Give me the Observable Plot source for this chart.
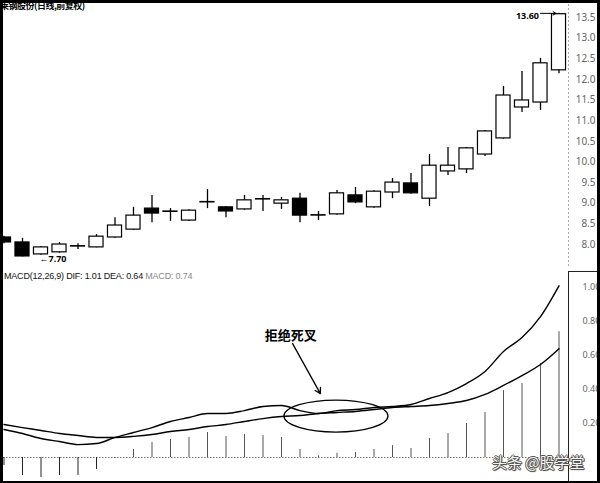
<!DOCTYPE html>
<html><head><meta charset="utf-8">
<script src="https://cdn.jsdelivr.net/npm/d3@7"></script>
<script src="https://cdn.jsdelivr.net/npm/@observablehq/plot@0.6"></script>
<style>
html,body{margin:0;padding:0;background:#fff;}
#wrap{position:relative;width:600px;height:483px;overflow:hidden;background:#fff;font-family:Arial,"Liberation Sans",sans-serif;}
#topc{position:absolute;left:0;top:0;}
#botc{position:absolute;left:0;top:268px;}
#border{position:absolute;left:0;top:0;width:600px;height:483px;box-sizing:border-box;border-top:3px solid #000;border-left:3px solid #000;border-right:3px solid #000;border-bottom:2px solid #000;pointer-events:none;}
#axbox{position:absolute;left:568px;top:271px;width:40px;height:220px;border-left:1px solid #222;border-top:1px solid #222;pointer-events:none;}
#title{position:absolute;left:0;top:-1px;font:bold 9px "Noto Sans CJK SC",sans-serif;color:#000;letter-spacing:-0.5px;}
#mhead{position:absolute;left:4px;top:271px;font:9px Arial,"Liberation Sans",sans-serif;color:#111;white-space:nowrap;letter-spacing:-0.2px;}
#mhead .g{color:#888;}
#wm{position:absolute;left:492px;top:451px;font:15px "Noto Sans CJK SC",sans-serif;color:#f6f6f6;text-shadow:-1px 0 #555,1px 0 #555,0 1px #555,0 -1px #555,1px 1px 1px #333;white-space:nowrap;}
</style>
</head><body>
<div id="wrap">
  <div id="topc"></div>
  <div id="botc"></div>
  <div id="axbox"></div>
  <div id="mhead">MACD(12,26,9) DIF: 1.01 DEA: 0.64 <span class="g">MACD: 0.74</span></div>
  <div id="wm">头条 @股学堂</div>
  <div id="border"></div>
  <div id="title">莱钢股份(日线,前复权)</div>
</div>
<script>
// ---- data ----
const dayIndex = d3.range(31);
const open  = [8.17,8.05,7.76,7.81,7.95,7.93,8.17,8.36,8.87,8.80,8.58,9.02,8.90,8.85,9.09,8.99,9.11,8.70,8.73,9.19,8.90,9.26,9.48,9.11,9.77,9.82,10.18,10.57,11.32,11.44,12.22];
const high  = [8.20,8.15,7.95,8.05,8.02,8.24,8.65,8.90,9.19,8.87,8.84,9.33,8.92,9.19,9.19,9.14,9.24,8.80,9.31,9.38,9.30,9.60,9.72,10.18,10.35,10.35,10.76,11.83,12.19,12.51,13.60];
const low   = [8.02,7.70,7.74,7.79,7.88,7.92,8.15,8.34,8.53,8.56,8.56,8.87,8.65,8.83,8.80,8.85,8.53,8.58,8.71,8.99,8.88,9.11,9.22,8.92,9.67,9.72,10.13,10.55,11.20,11.25,12.14];
const close = [8.05,7.71,7.93,8.00,7.96,8.19,8.46,8.70,8.75,8.79,8.82,9.03,8.80,9.07,9.10,9.07,8.70,8.71,9.24,9.02,9.28,9.50,9.24,9.91,9.91,10.33,10.74,11.61,11.49,12.39,13.58];
const dif   = [0.165,0.141,0.112,0.094,0.076,0.082,0.118,0.147,0.176,0.212,0.235,0.259,0.259,0.276,0.300,0.306,0.276,0.259,0.276,0.282,0.294,0.300,0.312,0.347,0.382,0.435,0.506,0.624,0.706,0.829,1.01];
const dea   = [0.194,0.176,0.159,0.141,0.129,0.118,0.118,0.124,0.135,0.153,0.165,0.182,0.194,0.212,0.229,0.241,0.247,0.259,0.265,0.271,0.282,0.294,0.300,0.306,0.318,0.335,0.371,0.424,0.482,0.547,0.64];
const macd  = [-0.047,-0.106,-0.118,-0.106,-0.106,-0.070,-0.005,0.047,0.088,0.106,0.118,0.147,0.124,0.135,0.129,0.118,0.047,0.010,0.024,0.030,0.047,0.070,0.053,0.112,0.141,0.200,0.265,0.394,0.435,0.553,0.74];
const priceTicks = [8.0,8.5,9.0,9.5,10.0,10.5,11.0,11.5,12.0,12.5,13.0,13.5];
const macdTicks = [0.2,0.4,0.6,0.8,1.0];
// annotations
const highLabel = [{i:30, v:13.60, text:"13.60"}];
const lowLabel  = [{i:1, v:7.70, text:"←7.70"}];
const noteText  = [{i:15.5, v:0.718, text:"拒绝死叉"}];
const noteArrow = [{i1:15.6, v1:0.67, i2:17.1, v2:0.376}];
const noteEllipse = {i:17.97, v:0.241, rx:52, ry:16};

const candles = dayIndex.map(i => ({i, o:open[i], h:high[i], l:low[i], c:close[i], up: close[i] >= open[i]}));
const HW = 0.38;
const xOpt = {domain:[0,30], range:[3.5,558.5], axis:null};

const topChart = Plot.plot({
  width:600, height:268, marginLeft:0, marginRight:32, marginTop:0, marginBottom:0,
  x:xOpt,
  y:{domain:[8,13.5], range:[244,17]},
  style:{background:"transparent", overflow:"visible"},
  marks:[
    Plot.frame({anchor:"right", stroke:"#aaa", strokeDasharray:"1,3"}),
    Plot.axisY(priceTicks, {anchor:"right", tickSize:0, tickPadding:0, dx:27, textAnchor:"end",
      tickFormat:d=>d.toFixed(1), fontSize:10, color:"#666"}),
    Plot.ruleX(candles, {x:"i", y1:"l", y2:"h", stroke:"#000", strokeWidth:1.3}),
    Plot.rect(candles, {x1:d=>d.i-HW, x2:d=>d.i+HW, y1:"o", y2:"c",
      fill:d=>d.up?"#fff":"#000", stroke:"#000", strokeWidth:1.2}),
    Plot.arrow(highLabel, {x1:d=>d.i-1, x2:"i", y1:"v", y2:"v", insetEnd:3, headLength:5, stroke:"#000", strokeWidth:1}),
    Plot.text(highLabel, {x:"i", y:"v", text:"text", dx:-20, dy:3, textAnchor:"end", fontSize:9, fontWeight:"bold", fill:"#000"}),
    Plot.text(lowLabel, {x:"i", y:"v", text:"text", dx:17, dy:2, textAnchor:"start", fontSize:9, fontWeight:"bold", fill:"#000"})
  ]
});
document.getElementById("topc").appendChild(topChart);

const difRows = dayIndex.map(i => ({i, v:dif[i]}));
const deaRows = dayIndex.map(i => ({i, v:dea[i]}));
const histRows = dayIndex.map(i => ({i, v:macd[i]}));

const ellipseMark = (index, scales, values, dimensions) => {
  const e = document.createElementNS("http://www.w3.org/2000/svg", "ellipse");
  const sx = typeof scales.x === "function" ? scales.x : (v => 3.5 + 18.5 * v);
  const sy = typeof scales.y === "function" ? scales.y : (v => 189 - 170 * v);
  e.setAttribute("cx", sx(noteEllipse.i));
  e.setAttribute("cy", sy(noteEllipse.v));
  e.setAttribute("rx", noteEllipse.rx);
  e.setAttribute("ry", noteEllipse.ry);
  e.setAttribute("fill", "none");
  e.setAttribute("stroke", "#000");
  e.setAttribute("stroke-width", "1.3");
  return e;
};

const botChart = Plot.plot({
  width:600, height:215, marginLeft:0, marginRight:32, marginTop:4, marginBottom:3,
  x:xOpt,
  y:{domain:[0,1], range:[189,19]},
  style:{background:"transparent", overflow:"visible"},
  marks:[
    Plot.ruleY([0], {stroke:"#777", strokeDasharray:"1.5,1.5"}),
    Plot.ruleX(histRows, {x:"i", y1:0, y2:"v", stroke:d=>d.v<0?"#222":"#555", strokeWidth:1}),
    Plot.line(deaRows, {x:"i", y:"v", stroke:"#000", strokeWidth:1.4, curve:"monotone-x"}),
    Plot.line(difRows, {x:"i", y:"v", stroke:"#000", strokeWidth:1.4, curve:"monotone-x"}),
    Plot.axisY(macdTicks, {anchor:"right", tickSize:0, tickPadding:0, dx:14, textAnchor:"start",
      tickFormat:d=>d.toFixed(2), fontSize:9, color:"#666"}),
    ellipseMark,
    Plot.arrow(noteArrow, {x1:"i1", y1:"v1", x2:"i2", y2:"v2", stroke:"#000", strokeWidth:1.3, headLength:7}),
    Plot.text(noteText, {x:"i", y:"v", text:"text", fontSize:13, fontWeight:"bold", fill:"#000",
      fontFamily:"'Noto Sans CJK SC', sans-serif"})
  ]
});
document.getElementById("botc").appendChild(botChart);
</script>
</body></html>
